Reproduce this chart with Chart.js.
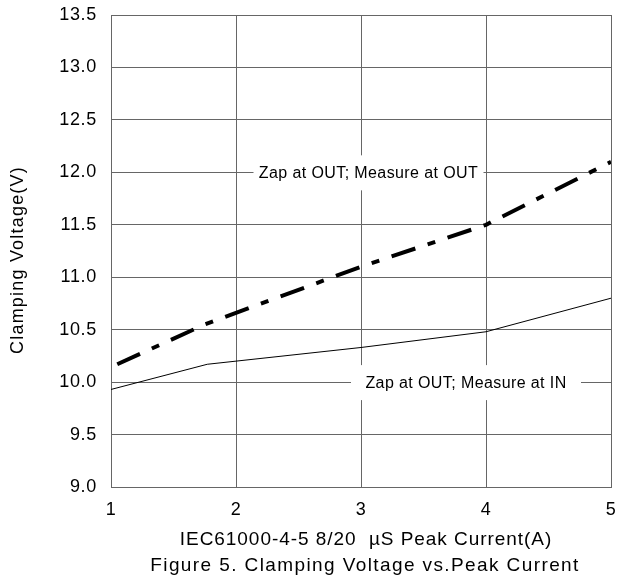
<!DOCTYPE html>
<html>
<head>
<meta charset="utf-8">
<script src="https://cdn.jsdelivr.net/npm/chart.js@4.4.1/dist/chart.umd.min.js"></script>
<style>
  body { margin: 0; background: #fff; }
  #wrap { width: 621px; height: 582px; }
</style>
</head>
<body>
<div id="wrap"><canvas id="clampChart" width="621" height="582"></canvas></div>
<script>
// Values (peak current in A, clamping voltage in V)
const outCurrent = [1.05, 1.75, 3, 4, 5];
const outVoltage = [10.17, 10.55, 11.1, 11.5, 12.1];
const inCurrent = [1, 1.77, 3, 4, 5];
const inVoltage = [9.93, 10.17, 10.33, 10.48, 10.8];

const xTicks = [1, 2, 3, 4, 5];
const yTicks = [9.0, 9.5, 10.0, 10.5, 11.0, 11.5, 12.0, 12.5, 13.0, 13.5];

const seriesNames = ['Zap at OUT; Measure at OUT', 'Zap at OUT; Measure at IN'];
const xTitle = 'IEC61000-4-5 8/20  \u00b5S Peak Current(A)';
const yTitle = 'Clamping Voltage(V)';
const caption = 'Figure 5. Clamping Voltage vs.Peak Current';

const FONT = '"Liberation Sans", Arial, sans-serif';

function toPoints(xs, ys) {
    return xs.map((x, i) => ({ x: x, y: ys[i] }));
}

// Labels sitting on the grid with a white box, plus the axis titles and caption
const textBits = {
    id: 'textBits',
    beforeDraw(chart) {
        chart.ctx.letterSpacing = '0.7px';
    },
    beforeDatasetsDraw(chart) {
        const { ctx, scales: { x, y } } = chart;
        const spots = [[3.06, 12.0], [3.84, 10.0]];
        ctx.save();
        ctx.font = '16px ' + FONT;
        ctx.letterSpacing = '0.4px';
        ctx.textAlign = 'center';
        ctx.textBaseline = 'middle';
        seriesNames.forEach((name, i) => {
            const cx = x.getPixelForValue(spots[i][0]);
            const cy = y.getPixelForValue(spots[i][1]);
            ctx.fillStyle = '#fff';
            ctx.fillRect(cx - 115, cy - 17, 230, 35);
            ctx.fillStyle = '#000';
            ctx.fillText(name, cx, cy + 1);
        });
        ctx.restore();
    },
    afterDraw(chart) {
        const { ctx, chartArea } = chart;
        const midX = (chartArea.left + chartArea.right) / 2;
        const midY = (chartArea.top + chartArea.bottom) / 2;
        ctx.save();
        ctx.fillStyle = '#000';
        ctx.textAlign = 'center';
        ctx.textBaseline = 'middle';

        ctx.font = '19px ' + FONT;
        ctx.letterSpacing = '0.95px';
        ctx.fillText(xTitle, midX + 5, chartArea.bottom + 53);
        ctx.letterSpacing = '1.4px';
        ctx.fillText(caption, midX + 4, chartArea.bottom + 79);

        ctx.font = '18px ' + FONT;
        ctx.letterSpacing = '1.2px';
        ctx.translate(18, midY + 9);
        ctx.rotate(-Math.PI / 2);
        ctx.fillText(yTitle, 0, 0);
        ctx.restore();
    }
};

const ctx = document.getElementById('clampChart').getContext('2d');
const clampChart = new Chart(ctx, {
    type: 'line',
    data: {
        datasets: [
            {
                label: seriesNames[0],
                data: toPoints(outCurrent, outVoltage),
                borderColor: '#000',
                borderWidth: 4,
                borderDash: [25, 13, 8, 13],
                borderCapStyle: 'butt',
                pointRadius: 0,
                tension: 0,
                fill: false
            },
            {
                label: seriesNames[1],
                data: toPoints(inCurrent, inVoltage),
                borderColor: '#000',
                borderWidth: 1,
                pointRadius: 0,
                tension: 0,
                fill: false
            }
        ]
    },
    options: {
        responsive: false,
        animation: false,
        layout: {
            padding: { top: 15, right: 10, bottom: 0, left: 0 }
        },
        plugins: {
            legend: { display: false },
            tooltip: { enabled: false }
        },
        scales: {
            x: {
                type: 'linear',
                min: 1,
                max: 5,
                afterBuildTicks: scale => { scale.ticks = xTicks.map(v => ({ value: v })); },
                afterFit: scale => {
                    scale.height = 95;
                    scale.paddingLeft = 0;
                    scale.paddingRight = 0;
                },
                ticks: {
                    padding: 12,
                    color: '#000',
                    font: { size: 18, family: FONT },
                    maxRotation: 0
                },
                grid: { color: '#666', lineWidth: 1, drawTicks: false },
                border: { color: '#666', width: 1 }
            },
            y: {
                min: 9,
                max: 13.5,
                afterBuildTicks: scale => { scale.ticks = yTicks.map(v => ({ value: v })); },
                afterFit: scale => {
                    scale.width = 111;
                    scale.paddingTop = 0;
                    scale.paddingBottom = 0;
                },
                ticks: {
                    padding: 14,
                    color: '#000',
                    font: { size: 18, family: FONT },
                    callback: v => Number(v).toFixed(1)
                },
                grid: { color: '#666', lineWidth: 1, drawTicks: false },
                border: { color: '#666', width: 1 }
            }
        }
    },
    plugins: [textBits]
});
</script>
</body>
</html>
